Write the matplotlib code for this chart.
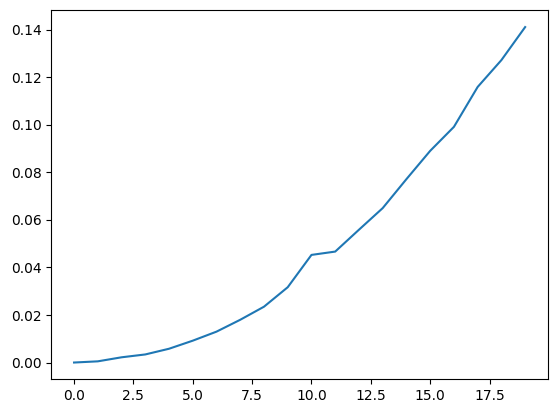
import matplotlib
matplotlib.use("Agg")
import matplotlib.pyplot as plt

steps = list(range(20))
values = [0.0, 0.0005, 0.0022, 0.0034, 0.0058, 0.0092, 0.0130, 0.0180, 0.0235, 0.0317,
          0.0453, 0.0467, 0.0559, 0.0650, 0.0772, 0.0891, 0.0992, 0.1160, 0.1273, 0.1412]

fig = plt.figure(figsize=(5.56, 4.13), dpi=100)
ax = fig.add_axes([51.5/556, 1-379.3/413, (547.7-51.5)/556, (379.3-10.3)/413])
ax.plot(steps, values, color="#1f77b4")
fig.savefig("out.png", dpi=100)
